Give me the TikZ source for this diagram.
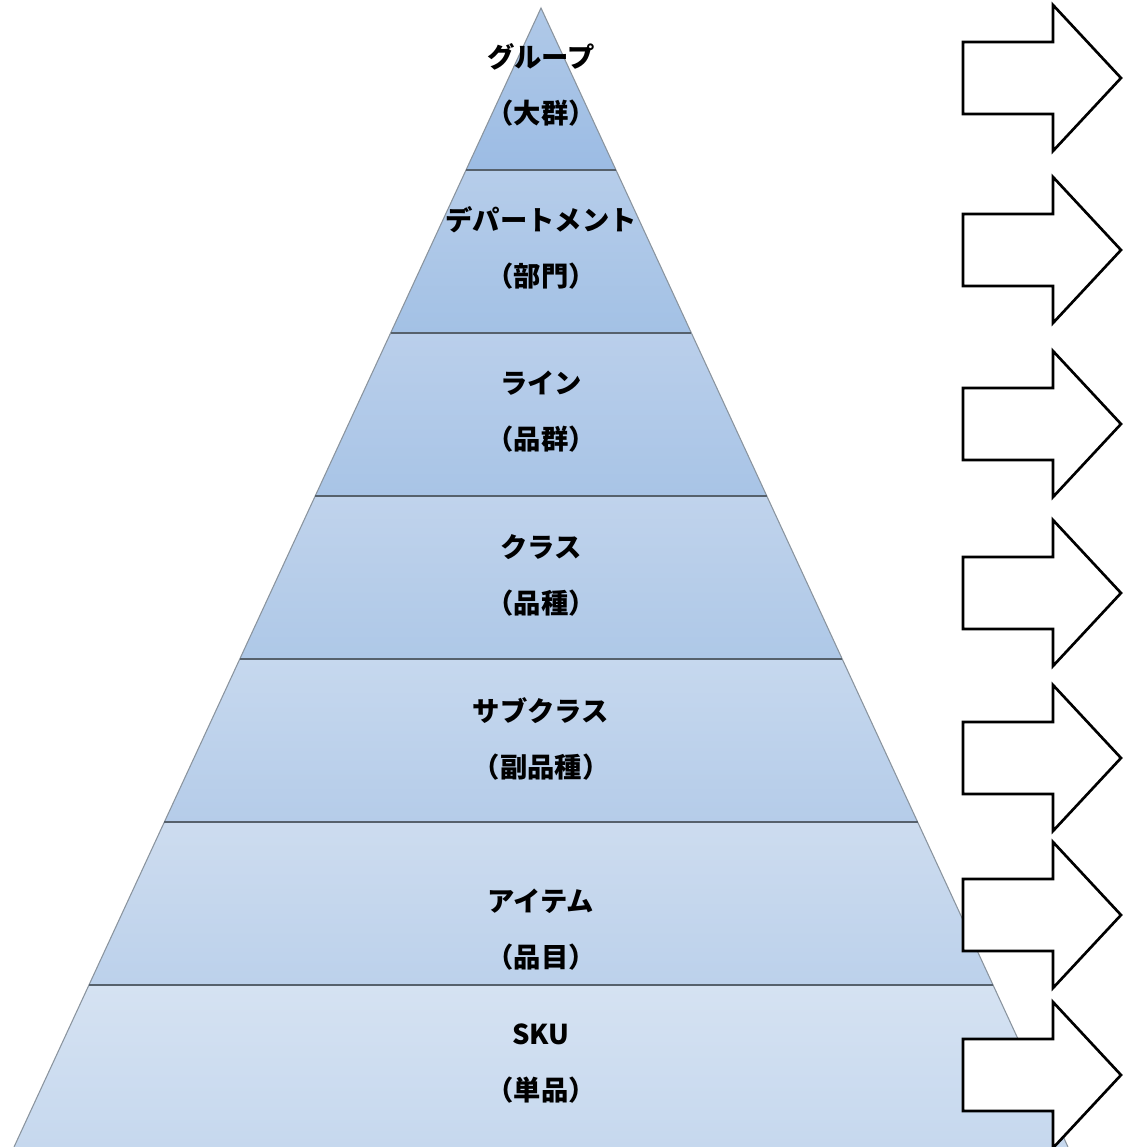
\documentclass[tikz,border=0pt]{standalone}
\usepackage{fontspec}
\setmainfont{Noto Sans CJK JP}
\usetikzlibrary{positioning}
\definecolor{bandline}{HTML}{56616C}
\definecolor{sideline}{HTML}{8A949E}
\tikzstyle{divider} = [draw=bandline, line width=1.1pt]
\tikzstyle{side} = [draw=sideline, line width=0.8pt]
\tikzstyle{tier} = [align=center, font=\fontsize{20.5}{42}\selectfont\bfseries, inner sep=0pt]
\tikzstyle{blockarrow} = [draw=black, fill=white, line width=2pt, line join=miter]

\begin{document}
\begin{tikzpicture}[x=0.75pt,y=-0.75pt]
\useasboundingbox (0,0) rectangle (1122,1147);
\coordinate (apex) at (541,8);
\coordinate (bl) at (14,1147);
\coordinate (br) at (1068,1147);
% bands, lighter at the top of each one
\shade[top color={rgb,255:red,176;green,201;blue,232}, bottom color={rgb,255:red,156;green,188;blue,228}] (apex)--(466,170)--(616,170)--cycle;
\shade[top color={rgb,255:red,182;green,205;blue,234}, bottom color={rgb,255:red,163;green,193;blue,229}] (466,170)--(616,170)--(691.4,333)--(390.6,333)--cycle;
\shade[top color={rgb,255:red,186;green,207;blue,235}, bottom color={rgb,255:red,168;green,196;blue,230}] (390.6,333)--(691.4,333)--(766.8,496)--(315.2,496)--cycle;
\shade[top color={rgb,255:red,192;green,211;blue,236}, bottom color={rgb,255:red,174;green,200;blue,231}] (315.2,496)--(766.8,496)--(842.2,659)--(239.8,659)--cycle;
\shade[top color={rgb,255:red,198;green,216;blue,238}, bottom color={rgb,255:red,181;green,204;blue,233}] (239.8,659)--(842.2,659)--(917.6,822)--(164.4,822)--cycle;
\shade[top color={rgb,255:red,205;green,220;blue,239}, bottom color={rgb,255:red,188;green,209;blue,235}] (164.4,822)--(917.6,822)--(993,985)--(89,985)--cycle;
\shade[top color={rgb,255:red,213;green,226;blue,242}, bottom color={rgb,255:red,198;green,216;blue,238}] (89,985)--(993,985)--(br)--(bl)--cycle;
\draw[side] (bl)--(apex)--(br);
\draw[divider] (466,170)--(616,170);
\draw[divider] (390.6,333)--(691.4,333);
\draw[divider] (315.2,496)--(766.8,496);
\draw[divider] (239.8,659)--(842.2,659);
\draw[divider] (164.4,822)--(917.6,822);
\draw[divider] (89,985)--(993,985);
% labels
\node[tier] (group) at (541,85) {グループ\\（大群）};
\node[tier] (dept) at (541,248) {デパートメント\\（部門）};
\node[tier] (line) at (541,412) {ライン\\（品群）};
\node[tier] (class) at (541,575) {クラス\\（品種）};
\node[tier] (subclass) at (541,739) {サブクラス\\（副品種）};
\node[tier] (item) at (541,930) {アイテム\\（品目）};
\node[tier] (sku) at (541,1064) {SKU\\（単品）};
% arrows
\foreach \c in {78,250,424,593,758,915,1075}
  \draw[blockarrow] (963,\c-36)--(1053,\c-36)--(1053,\c-73)--(1121,\c)--(1053,\c+73)--(1053,\c+36)--(963,\c+36)--cycle;
\end{tikzpicture}
\end{document}
